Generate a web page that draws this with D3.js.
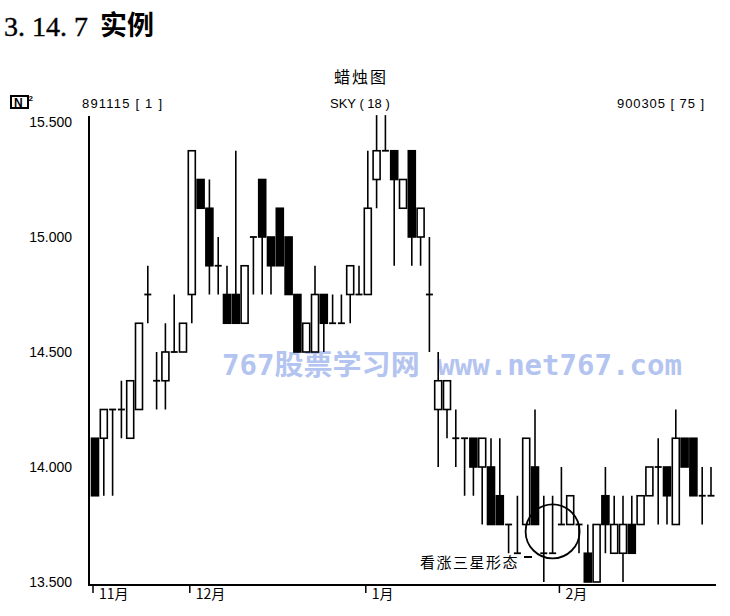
<!DOCTYPE html>
<html><head><meta charset="utf-8">
<script src="https://cdn.jsdelivr.net/npm/d3@7"></script>
<style>body{margin:0;background:#fff}svg{display:block}</style>
</head><body>
<svg id="c" width="730" height="616"></svg>
<script>
// ---- data ----
const bars  = d3.range(1, 72);
const open  = [14.125,14.125,14.25,14.25,14.125,14.25,14.75,14.375,14.375,14.5,14.5,14.75,15.25,15.125,14.875,14.75,14.75,14.625,15.0,15.25,15.0,15.125,15.0,14.75,14.5,14.5,14.75,14.625,14.625,14.75,14.75,14.75,15.25,15.375,15.375,15.125,15.375,15.0,14.75,14.25,14.25,14.125,14.125,14.125,14.0,14.0,13.875,13.75,13.625,13.75,14.0,13.625,13.625,13.75,13.75,13.75,13.625,13.5,13.875,13.625,13.625,13.75,13.75,13.875,14.0,14.0,13.75,14.125,14.125,13.875,13.875];
const high  = [14.125,14.25,14.25,14.375,14.375,14.625,14.875,14.5,14.625,14.75,14.625,15.375,15.25,15.25,15.0,14.875,15.375,14.875,15.0,15.25,15.0,15.125,15.0,14.75,14.625,14.875,14.75,14.75,14.75,14.875,14.875,15.375,15.53,15.53,15.375,15.25,15.375,15.125,15.0,14.5,14.375,14.25,14.125,14.125,14.125,14.125,14.125,13.75,13.875,14.125,14.25,13.875,13.875,14.0,13.875,13.75,13.75,13.75,14.0,13.875,13.875,13.875,13.875,14.0,14.125,14.0,14.25,14.125,14.125,14.0,14.0];
const low   = [13.875,13.875,13.875,14.125,14.125,14.25,14.625,14.25,14.25,14.5,14.5,14.625,15.125,14.75,14.75,14.625,14.625,14.625,14.75,14.75,14.75,14.875,14.75,14.5,14.5,14.5,14.5,14.625,14.625,14.625,14.75,14.75,15.125,15.375,14.875,15.125,14.875,14.875,14.5,14.0,14.125,14.0,13.875,13.875,13.75,13.75,13.75,13.625,13.625,13.75,13.75,13.5,13.625,13.75,13.75,13.625,13.5,13.5,13.625,13.625,13.5,13.625,13.75,13.875,13.75,13.75,13.75,14.0,13.875,13.75,13.875];
const close = [13.875,14.25,14.25,14.25,14.375,14.625,14.75,14.375,14.5,14.5,14.625,15.375,15.125,14.875,14.875,14.625,14.625,14.875,15.0,15.0,14.875,14.875,14.75,14.5,14.625,14.75,14.625,14.625,14.625,14.875,14.75,15.125,15.375,15.375,15.25,15.25,15.0,15.125,14.75,14.375,14.375,14.125,14.125,14.0,14.125,13.75,13.75,13.75,13.625,14.125,13.75,13.625,13.625,13.75,13.875,13.75,13.5,13.75,13.75,13.75,13.75,13.625,13.875,14.0,14.0,13.875,14.125,14.0,13.875,13.875,13.875];
const yTicks = [13.5, 14.0, 14.5, 15.0, 15.5];
const monthLabels = ["11月", "12月", "1月", "2月"];
const monthBars = [1, 12, 32, 54];
const patternBars = [52, 53, 54];

const svg = d3.select("#c");
const x = d3.scaleLinear().domain([1, 71]).range([95, 711]);
const y = d3.scaleLinear().domain([13.5, 15.5]).range([582, 122]);
const ink = "#000";
const sans = "'Liberation Sans', Arial, sans-serif";
const cjk = "'Noto Sans CJK SC', sans-serif";

// heading
svg.append("text").attr("x", 4).attr("y", 36).attr("font-family", "'Liberation Serif', serif")
  .attr("font-size", 28).attr("fill", ink).attr("stroke", ink).attr("stroke-width", 0.4).text("3. 14. 7");
svg.append("text").attr("x", 100).attr("y", 35).attr("font-family", cjk).attr("font-weight", 700)
  .attr("font-size", 27).attr("fill", ink).text("实例");

// chart title + header line
svg.append("text").attr("x", 361).attr("y", 83).attr("text-anchor", "middle").attr("font-family", cjk)
  .attr("font-size", 16).attr("letter-spacing", 2).attr("fill", ink).text("蜡烛图");
const icon = svg.append("g").attr("transform", "translate(10,95)");
icon.append("rect").attr("x", 1).attr("y", 1).attr("width", 17).attr("height", 12).attr("fill", "none")
  .attr("stroke", ink).attr("stroke-width", 2);
icon.append("text").attr("x", 4).attr("y", 11.5).attr("font-family", sans).attr("font-weight", 700)
  .attr("font-size", 12).attr("fill", ink).text("N");
icon.append("text").attr("x", 18.5).attr("y", 6).attr("font-family", sans).attr("font-weight", 700)
  .attr("font-size", 8).attr("fill", ink).text("2");
svg.append("text").attr("x", 82).attr("y", 108).attr("font-family", sans).attr("font-size", 13)
  .attr("textLength", 80).attr("lengthAdjust", "spacing").attr("fill", ink).text("891115 [ 1 ]");
svg.append("text").attr("x", 330).attr("y", 108).attr("font-family", sans).attr("font-size", 13)
  .attr("fill", ink).text("SKY ( 18 )");
svg.append("text").attr("x", 617).attr("y", 108).attr("font-family", sans).attr("font-size", 13)
  .attr("textLength", 87).attr("lengthAdjust", "spacing").attr("fill", ink).text("900305 [ 75 ]");

// watermark
svg.append("text").attr("x", 222).attr("y", 375).attr("font-family", "'DejaVu Sans Mono', 'Noto Sans CJK SC', monospace")
  .attr("font-weight", 700).attr("font-size", 28).attr("fill", "#b4c4f0")
  .attr("textLength", 460).attr("lengthAdjust", "spacingAndGlyphs")
  .text("767股票学习网 www.net767.com");

// y axis
const yAxis = svg.append("g").attr("transform", "translate(89,0)")
  .call(d3.axisLeft(y).tickValues(yTicks).tickSize(0).tickPadding(17).tickFormat(d3.format(".3f")));
yAxis.select(".domain").remove();
yAxis.selectAll("text").attr("font-family", sans).attr("font-size", 14).attr("fill", ink);
svg.append("line").attr("x1", 89).attr("x2", 89).attr("y1", 116).attr("y2", 586)
  .attr("stroke", ink).attr("stroke-width", 2);

// x axis
svg.append("line").attr("x1", 88).attr("x2", 716).attr("y1", 585).attr("y2", 585)
  .attr("stroke", ink).attr("stroke-width", 2);
const mg = svg.append("g").selectAll("g").data(monthBars).join("g")
  .attr("transform", d => `translate(${x(d) - 2},585)`);
mg.append("line").attr("y1", 0).attr("y2", 8).attr("stroke", ink).attr("stroke-width", 1.5);
mg.append("text").attr("x", 6).attr("y", 14).attr("font-family", cjk).attr("font-size", 14)
  .attr("fill", ink).text((d, i) => monthLabels[i]);

// candles
const bw = 7;
const cg = svg.append("g").selectAll("g").data(bars).join("g");
cg.append("line").attr("x1", d => x(d)).attr("x2", d => x(d))
  .attr("y1", d => y(high[d - 1])).attr("y2", d => y(low[d - 1]))
  .attr("stroke", ink).attr("stroke-width", 1.6);
cg.filter(d => open[d - 1] !== close[d - 1]).append("rect")
  .attr("x", d => x(d) - bw / 2).attr("width", bw)
  .attr("y", d => y(Math.max(open[d - 1], close[d - 1])))
  .attr("height", d => Math.abs(y(open[d - 1]) - y(close[d - 1])))
  .attr("fill", d => close[d - 1] > open[d - 1] ? "#fff" : ink)
  .attr("stroke", ink).attr("stroke-width", 1.6);
cg.filter(d => open[d - 1] === close[d - 1]).append("line")
  .attr("x1", d => x(d) - bw / 2).attr("x2", d => x(d) + bw / 2)
  .attr("y1", d => y(open[d - 1])).attr("y2", d => y(open[d - 1]))
  .attr("stroke", ink).attr("stroke-width", 1.8);

// pattern annotation
const px = d3.mean(patternBars, d => x(d));
svg.append("circle").attr("cx", px).attr("cy", y(13.72)).attr("r", 27)
  .attr("fill", "none").attr("stroke", ink).attr("stroke-width", 1.8);
svg.append("text").attr("x", 420).attr("y", 568).attr("font-family", cjk).attr("font-size", 15)
  .attr("letter-spacing", 1.5).attr("fill", ink).text("看涨三星形态");
svg.append("line").attr("x1", 524).attr("x2", 532).attr("y1", 557).attr("y2", 557)
  .attr("stroke", ink).attr("stroke-width", 2);
</script>
</body></html>
